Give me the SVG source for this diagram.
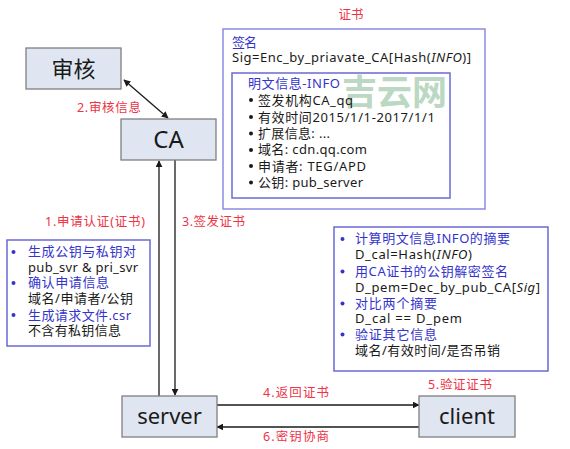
<svg xmlns="http://www.w3.org/2000/svg" width="570" height="449" viewBox="0 0 570 449">
<defs>
<style>
.node{fill:#dfe6f1;stroke:#7f7f7f;stroke-width:1.3}
.nt{font-family:"Noto Sans","Noto Sans CJK SC",sans-serif;fill:#1a1a1a;text-anchor:middle}
.t{font-family:"Noto Sans","Noto Sans CJK SC",sans-serif;font-size:13px;fill:#1a1a1a}
.b{fill:#3434cc}
.r{font-family:"Noto Sans","Noto Sans CJK SC",sans-serif;font-size:12.5px;fill:#ee3346}
.box{fill:none;stroke:#8a8ae2;stroke-width:1.5}
.box2{fill:none;stroke:#6a6ad8;stroke-width:1.5}
.ln{stroke:#1a1a1a;stroke-width:1.3;fill:none}
</style>
<marker id="ah" viewBox="0 0 10 10" refX="9" refY="5" markerWidth="7" markerHeight="7" markerUnits="userSpaceOnUse" orient="auto-start-reverse">
<path d="M0,0 L10,5 L0,10 z" fill="#1a1a1a"/>
</marker>
</defs>
<rect width="570" height="449" fill="#ffffff"/>

<g id="connectors">
<line class="ln" x1="124" y1="80" x2="168" y2="118" marker-start="url(#ah)" marker-end="url(#ah)"/>
<line class="ln" x1="159" y1="396" x2="159" y2="161" marker-end="url(#ah)"/>
<line class="ln" x1="175" y1="160" x2="175" y2="395" marker-end="url(#ah)"/>
<line class="ln" x1="217" y1="405" x2="419" y2="405" marker-end="url(#ah)"/>
<line class="ln" x1="419" y1="427" x2="217" y2="427" marker-end="url(#ah)"/>
<text class="r" x="77" y="112" textLength="64">2.审核信息</text>
<text class="r" x="45" y="226" textLength="100">1.申请认证(证书)</text>
<text class="r" x="182" y="226" textLength="63">3.签发证书</text>
<text class="r" x="263" y="397" textLength="66">4.返回证书</text>
<text class="r" x="428" y="389" textLength="64">5.验证证书</text>
<text class="r" x="263" y="441" textLength="66">6.密钥协商</text>
</g>

<g id="node-shenhe">
<rect class="node" x="26" y="48" width="95" height="41"/>
<text class="nt" x="73.5" y="76.5" font-size="22">审核</text>
</g>
<g id="node-ca">
<rect class="node" x="121" y="119" width="95" height="41"/>
<text class="nt" x="168.5" y="148" font-size="24">CA</text>
</g>
<g id="node-server">
<rect class="node" x="122" y="396" width="95" height="41"/>
<text class="nt" x="169.5" y="424" font-size="22">server</text>
</g>
<g id="node-client">
<rect class="node" x="419" y="396" width="96" height="41"/>
<text class="nt" x="467" y="424" font-size="22">client</text>
</g>

<g id="certificate">
<text class="r" x="351" y="19" text-anchor="middle">证书</text>
<rect class="box" x="223" y="29" width="262" height="180"/>
<text class="t b" x="232" y="47" textLength="25">签名</text>
<text class="t" x="232" y="62" textLength="239">Sig=Enc_by_priavate_CA[Hash(<tspan font-style="italic">INFO</tspan>)]</text>
<rect class="box2" x="232" y="73" width="218" height="125"/>
<text x="342" y="105" font-family="Noto Sans CJK SC,sans-serif" font-size="35" font-weight="bold" fill="#9fc8aa" opacity="0.7" textLength="105">吉云网</text>
<text class="t b" x="248" y="88" textLength="92">明文信息-INFO</text>
<g fill="#1a1a1a">
<circle cx="251" cy="100" r="2"/>
<circle cx="251" cy="117" r="2"/>
<circle cx="251" cy="133.5" r="2"/>
<circle cx="251" cy="150" r="2"/>
<circle cx="251" cy="166" r="2"/>
<circle cx="251" cy="182.5" r="2"/>
</g>
<text class="t" x="258" y="104.5" textLength="95">签发机构CA_qq</text>
<text class="t" x="258" y="121.5" textLength="177">有效时间2015/1/1-2017/1/1</text>
<text class="t" x="258" y="138" textLength="72">扩展信息: ...</text>
<text class="t" x="258" y="154" textLength="109">域名: cdn.qq.com</text>
<text class="t" x="258" y="170.5" textLength="108">申请者: TEG/APD</text>
<text class="t" x="258" y="187" textLength="105">公钥: pub_server</text>
</g>

<g id="request-box">
<rect class="box2" x="7" y="240" width="143" height="106"/>
<g class="b">
<circle cx="13.5" cy="252" r="2"/>
<circle cx="13.5" cy="283" r="2"/>
<circle cx="13.5" cy="315" r="2"/>
</g>
<text class="t b" x="28" y="256" textLength="108">生成公钥与私钥对</text>
<text class="t" x="28" y="272" textLength="110">pub_svr &amp; pri_svr</text>
<text class="t b" x="28" y="287" textLength="81">确认申请信息</text>
<text class="t" x="28" y="303" textLength="105">域名/申请者/公钥</text>
<text class="t b" x="28" y="320" textLength="103">生成请求文件.csr</text>
<text class="t" x="28" y="335" textLength="93">不含有私钥信息</text>
</g>

<g id="verify-box">
<rect class="box2" x="334" y="227" width="214" height="144"/>
<g class="b">
<circle cx="342.5" cy="239" r="2"/>
<circle cx="342.5" cy="271.5" r="2"/>
<circle cx="342.5" cy="303.5" r="2"/>
<circle cx="342.5" cy="334.5" r="2"/>
</g>
<text class="t b" x="355" y="243" textLength="155">计算明文信息INFO的摘要</text>
<text class="t" x="355" y="259" textLength="117">D_cal=Hash(<tspan font-style="italic">INFO</tspan>)</text>
<text class="t b" x="355" y="276" textLength="153">用CA证书的公钥解密签名</text>
<text class="t" x="355" y="292" textLength="185">D_pem=Dec_by_pub_CA[<tspan font-style="italic">Sig</tspan>]</text>
<text class="t b" x="355" y="308" textLength="82">对比两个摘要</text>
<text class="t" x="355" y="323" textLength="107">D_cal == D_pem</text>
<text class="t b" x="355" y="339" textLength="82">验证其它信息</text>
<text class="t" x="355" y="355" textLength="145">域名/有效时间/是否吊销</text>
</g>
</svg>
